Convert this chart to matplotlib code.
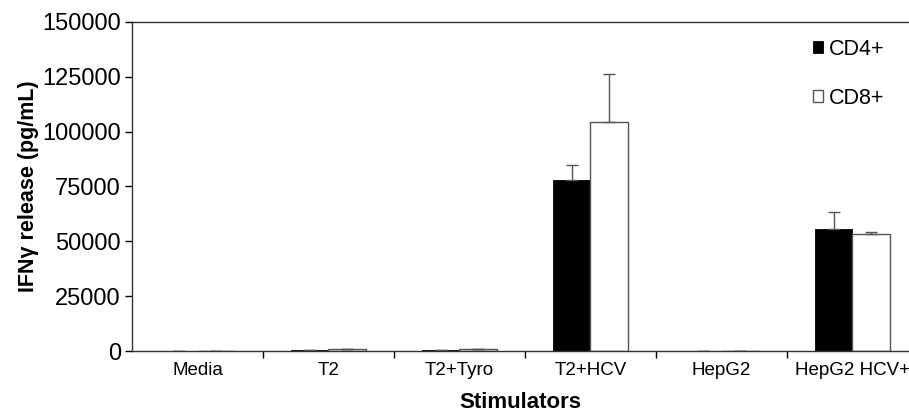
import numpy as np
import matplotlib.pyplot as plt

plt.rcParams['font.family'] = ['Liberation Sans', 'DejaVu Sans']

# data
stimulators = ["Media", "T2", "T2+Tyro", "T2+HCV", "HepG2", "HepG2 HCV+"]
cd4 = [200, 300, 250, 78000, 150, 55500]
cd4_err = [0, 0, 0, 7000, 0, 8000]
cd8 = [150, 700, 900, 104500, 150, 53200]
cd8_err = [0, 300, 0, 22000, 0, 1200]

fig = plt.figure(figsize=(9.09, 4.16), dpi=100)
ax = fig.add_axes([0.1452, 0.15625, 0.8548, 0.7909])

x = np.arange(len(stimulators))
w = 0.288
ekw = dict(ecolor="#555555", elinewidth=1.0, capsize=4, capthick=1.0)
ax.bar(x - w / 2, cd4, w, color="black", edgecolor="black", linewidth=0.6,
       yerr=[np.zeros(len(cd4)), cd4_err], error_kw=ekw, label="CD4+")
ax.bar(x + w / 2, cd8, w, color="white", edgecolor="#555555", linewidth=1.0,
       yerr=[np.zeros(len(cd8)), cd8_err], error_kw=ekw, label="CD8+")

ax.set_xlim(-0.5, (909 - 132) / 131 - 0.5)
ax.set_ylim(0, 150000)
ax.set_yticks(np.arange(0, 150001, 25000))
ax.set_xticks(x)
ax.set_xticklabels(stimulators, fontsize=13.5)
ax.set_xticks(np.arange(0.5, 5.5, 1), minor=True)
ax.tick_params(axis='x', which='major', length=0, pad=8)
ax.tick_params(axis='x', which='minor', length=5, width=1, direction='out')
ax.tick_params(axis='y', labelsize=17, length=5, width=1, direction='out', pad=3)

for s in ["left", "bottom", "top"]:
    ax.spines[s].set_linewidth(1)
    ax.spines[s].set_color("#333333")
ax.spines["right"].set_visible(False)

ax.set_xlabel("Stimulators", fontsize=16, fontweight="bold", labelpad=9)
ax.set_ylabel("IFNγ release (pg/mL)", fontsize=15.5, fontweight="bold", labelpad=2)

ax.legend(loc="upper left", frameon=False, fontsize=15.5, handlelength=0.5,
          handleheight=0.5, handletextpad=0.25, labelspacing=1.3,
          borderaxespad=0, bbox_to_anchor=(0.865, 0.975))

fig.savefig("out.png", dpi=100)
